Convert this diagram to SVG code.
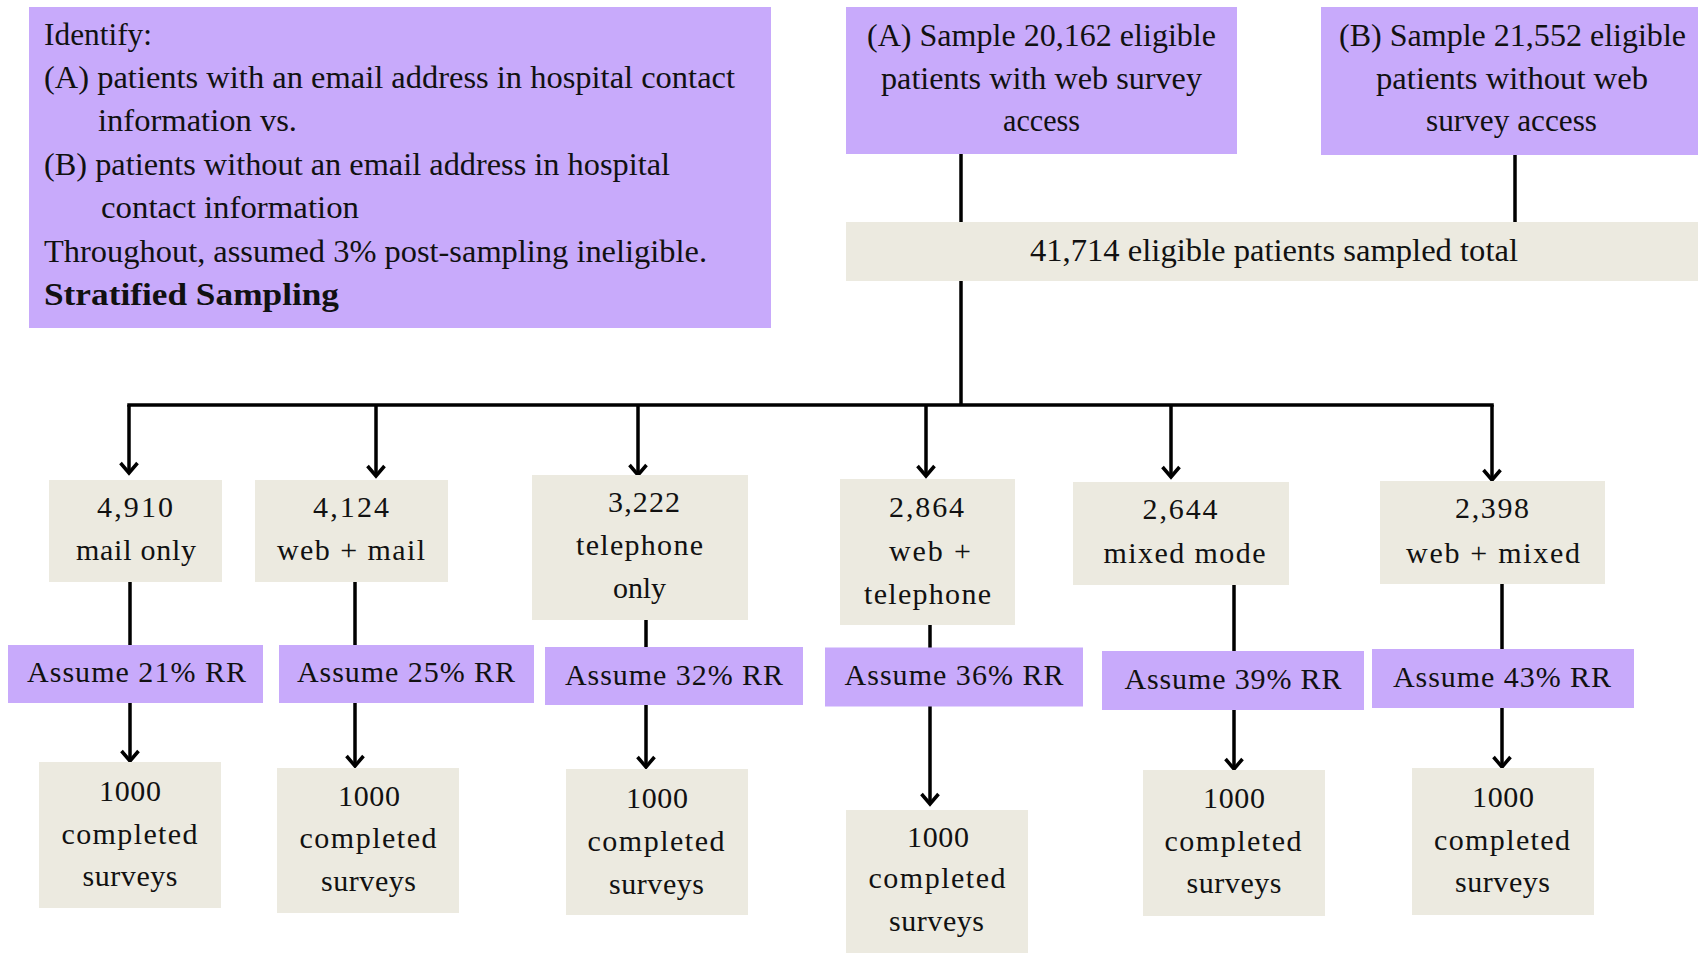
<svg xmlns="http://www.w3.org/2000/svg" width="1698" height="953" viewBox="0 0 1698 953">
<defs>
<style>
.p{fill:#C8AAFB}
.b{fill:#ECEAE0}
text{font-family:"Liberation Serif","Times New Roman",serif;fill:#111;font-size:31px}
.t{text-anchor:middle}
.s{font-size:30px;text-anchor:middle}
.bold{font-weight:bold}
.ln{stroke:#000;stroke-width:3.5;fill:none}
</style>
<marker id="arr" markerUnits="userSpaceOnUse" markerWidth="24" markerHeight="24" viewBox="-12 -12 24 24" refX="0" refY="0" orient="auto">
<path d="M-10,-8.5 L0,0 L-10,8.5" stroke="#000" stroke-width="3.5" fill="none" stroke-linejoin="miter"/>
</marker>
</defs>
<rect width="1698" height="953" fill="#fff"/>

<g id="connectors">
<path class="ln" d="M961,154 V222"/>
<path class="ln" d="M1515,155 V222"/>
<path class="ln" d="M961,281 V405"/>
<path class="ln" d="M129,405 H1492" stroke-linecap="square"/>
<path class="ln" d="M129,405 V473" marker-end="url(#arr)"/>
<path class="ln" d="M376,405 V476" marker-end="url(#arr)"/>
<path class="ln" d="M638,405 V475" marker-end="url(#arr)"/>
<path class="ln" d="M926,405 V476" marker-end="url(#arr)"/>
<path class="ln" d="M1171,405 V477" marker-end="url(#arr)"/>
<path class="ln" d="M1492,405 V480" marker-end="url(#arr)"/>
<path class="ln" d="M130,582 V646"/>
<path class="ln" d="M355,582 V646"/>
<path class="ln" d="M646,620 V648"/>
<path class="ln" d="M930,625 V648"/>
<path class="ln" d="M1234,585 V652"/>
<path class="ln" d="M1502,584 V650"/>
<path class="ln" d="M130,703 V761" marker-end="url(#arr)"/>
<path class="ln" d="M355,703 V766" marker-end="url(#arr)"/>
<path class="ln" d="M646,705 V767" marker-end="url(#arr)"/>
<path class="ln" d="M930,706 V804" marker-end="url(#arr)"/>
<path class="ln" d="M1234,710 V769" marker-end="url(#arr)"/>
<path class="ln" d="M1502,708 V767" marker-end="url(#arr)"/>
</g>

<g id="identify">
<rect class="p" x="29" y="7" width="742" height="321"/>
<text x="44" y="45" textLength="108" lengthAdjust="spacingAndGlyphs">Identify:</text>
<text x="44" y="88" textLength="691" lengthAdjust="spacingAndGlyphs">(A) patients with an email address in hospital contact</text>
<text x="98" y="131" textLength="199" lengthAdjust="spacingAndGlyphs">information vs.</text>
<text x="44" y="175" textLength="626" lengthAdjust="spacingAndGlyphs">(B) patients without an email address in hospital</text>
<text x="101" y="218" textLength="258" lengthAdjust="spacingAndGlyphs">contact information</text>
<text x="44" y="262" textLength="663" lengthAdjust="spacingAndGlyphs">Throughout, assumed 3% post-sampling ineligible.</text>
<text x="44" y="305" class="bold" textLength="295" lengthAdjust="spacingAndGlyphs">Stratified Sampling</text>
</g>

<g id="sampleA">
<rect class="p" x="846" y="7" width="391" height="147"/>
<text class="t" x="1041.5" y="46" textLength="349" lengthAdjust="spacingAndGlyphs">(A) Sample 20,162 eligible</text>
<text class="t" x="1041.5" y="89" textLength="321" lengthAdjust="spacingAndGlyphs">patients with web survey</text>
<text class="t" x="1041.5" y="131" textLength="77" lengthAdjust="spacingAndGlyphs">access</text>
</g>

<g id="sampleB">
<rect class="p" x="1321" y="7" width="377" height="148"/>
<text class="t" x="1512.5" y="46" textLength="347" lengthAdjust="spacingAndGlyphs">(B) Sample 21,552 eligible</text>
<text class="t" x="1512" y="89" textLength="272" lengthAdjust="spacingAndGlyphs">patients without web</text>
<text class="t" x="1511.5" y="131" textLength="171" lengthAdjust="spacingAndGlyphs">survey access</text>
</g>

<g id="total">
<rect class="b" x="846" y="222" width="852" height="59"/>
<text class="t" x="1274" y="261" textLength="488" lengthAdjust="spacingAndGlyphs">41,714 eligible patients sampled total</text>
</g>

<g id="mode1">
<rect class="b" x="49" y="480" width="173" height="102"/>
<text class="s" x="135" y="517" textLength="76">4,910</text>
<text class="s" x="136" y="560" textLength="120">mail only</text>
</g>
<g id="mode2">
<rect class="b" x="255" y="480" width="193" height="102"/>
<text class="s" x="351" y="517" textLength="76">4,124</text>
<text class="s" x="351" y="560" textLength="148">web + mail</text>
</g>
<g id="mode3">
<rect class="b" x="532" y="475" width="216" height="145"/>
<text class="s" x="644" y="512" textLength="72">3,222</text>
<text class="s" x="639.5" y="555" textLength="127">telephone</text>
<text class="s" x="639.5" y="598" textLength="53">only</text>
</g>
<g id="mode4">
<rect class="b" x="840" y="479" width="175" height="146"/>
<text class="s" x="926.5" y="517" textLength="75">2,864</text>
<text class="s" x="930" y="561" textLength="82">web +</text>
<text class="s" x="927.5" y="604" textLength="127">telephone</text>
</g>
<g id="mode5">
<rect class="b" x="1073" y="482" width="216" height="103"/>
<text class="s" x="1180" y="519" textLength="75">2,644</text>
<text class="s" x="1184.5" y="563" textLength="162">mixed mode</text>
</g>
<g id="mode6">
<rect class="b" x="1380" y="481" width="225" height="103"/>
<text class="s" x="1492" y="518" textLength="74">2,398</text>
<text class="s" x="1493" y="563" textLength="174">web + mixed</text>
</g>

<g id="rr1">
<rect class="p" x="8" y="645" width="255" height="58"/>
<text class="s" x="136.5" y="682" textLength="219">Assume 21% RR</text>
</g>
<g id="rr2">
<rect class="p" x="279" y="645" width="255" height="58"/>
<text class="s" x="406" y="682" textLength="218">Assume 25% RR</text>
</g>
<g id="rr3">
<rect class="p" x="545" y="647" width="258" height="58"/>
<text class="s" x="674" y="685" textLength="218">Assume 32% RR</text>
</g>
<g id="rr4">
<rect class="p" x="825" y="647.5" width="258" height="59"/>
<text class="s" x="954" y="685" textLength="219">Assume 36% RR</text>
</g>
<g id="rr5">
<rect class="p" x="1102" y="651" width="262" height="59"/>
<text class="s" x="1233" y="689" textLength="217">Assume 39% RR</text>
</g>
<g id="rr6">
<rect class="p" x="1372" y="649" width="262" height="59"/>
<text class="s" x="1502" y="687" textLength="218">Assume 43% RR</text>
</g>

<g id="done1">
<rect class="b" x="39" y="762" width="182" height="146"/>
<text class="s" x="130" y="801" textLength="62">1000</text>
<text class="s" x="129.5" y="844" textLength="136">completed</text>
<text class="s" x="130" y="886" textLength="95">surveys</text>
</g>
<g id="done2">
<rect class="b" x="277" y="768" width="182" height="145"/>
<text class="s" x="369" y="806" textLength="62">1000</text>
<text class="s" x="368" y="848" textLength="137">completed</text>
<text class="s" x="368.5" y="891" textLength="95">surveys</text>
</g>
<g id="done3">
<rect class="b" x="566" y="769" width="182" height="146"/>
<text class="s" x="657" y="808" textLength="62">1000</text>
<text class="s" x="656" y="851" textLength="137">completed</text>
<text class="s" x="656.5" y="893.5" textLength="95">surveys</text>
</g>
<g id="done4">
<rect class="b" x="846" y="810" width="182" height="143"/>
<text class="s" x="938" y="847" textLength="62">1000</text>
<text class="s" x="937" y="888" textLength="137">completed</text>
<text class="s" x="936.5" y="931" textLength="95">surveys</text>
</g>
<g id="done5">
<rect class="b" x="1143" y="770" width="182" height="146"/>
<text class="s" x="1234" y="808" textLength="62">1000</text>
<text class="s" x="1233" y="851" textLength="137">completed</text>
<text class="s" x="1234" y="893" textLength="95">surveys</text>
</g>
<g id="done6">
<rect class="b" x="1412" y="768" width="182" height="147"/>
<text class="s" x="1503" y="807" textLength="62">1000</text>
<text class="s" x="1502" y="850" textLength="136">completed</text>
<text class="s" x="1502.5" y="892" textLength="95">surveys</text>
</g>
</svg>
